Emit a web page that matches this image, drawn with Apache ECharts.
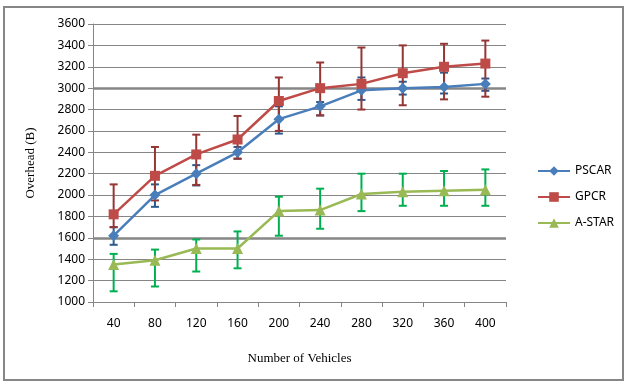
<!DOCTYPE html>
<html>
<head>
<meta charset="UTF-8">
<title>Overhead vs vehicles</title>
<script src="https://cdn.jsdelivr.net/npm/echarts@6/dist/echarts.min.js"></script>
<style>
  html, body { margin: 0; padding: 0; background: #fff; }
  #chart { width: 629px; height: 386px; }
</style>
</head>
<body>
<div id="chart"></div>
<script>
// categories and values
var vehicles = ['40', '80', '120', '160', '200', '240', '280', '320', '360', '400'];
var yTicks = [1000, 3600, 200];

var pscar     = [1620, 2000, 2200, 2400, 2710, 2830, 2980, 3000, 3010, 3040];
var pscarLow  = [1535, 1890, 2090, 2340, 2575, 2745, 2890, 2940, 2950, 2975];
var pscarHigh = [1700, 2100, 2280, 2450, 2830, 2870, 3100, 3060, 3145, 3090];

var gpcr      = [1820, 2180, 2380, 2520, 2880, 3000, 3040, 3140, 3200, 3230];
var gpcrLow   = [1700, 1950, 2095, 2340, 2600, 2745, 2800, 2840, 2895, 2920];
var gpcrHigh  = [2100, 2450, 2565, 2740, 3100, 3240, 3380, 3400, 3415, 3445];

var astar     = [1350, 1390, 1500, 1500, 1850, 1860, 2010, 2030, 2040, 2050];
var astarLow  = [1100, 1145, 1285, 1315, 1620, 1685, 1850, 1900, 1900, 1900];
var astarHigh = [1450, 1490, 1585, 1660, 1985, 2060, 2200, 2200, 2225, 2240];

var thickLines = [3000, 1600];

function bars(low, high) {
  var out = [];
  for (var i = 0; i < low.length; i++) out.push([i, low[i], high[i]]);
  return out;
}

// error bars: vertical whisker with small caps
function errorSeries(name, low, high, color) {
  return {
    type: 'custom',
    name: name + ' error',
    z: 1,
    silent: true,
    encode: { x: 0, y: [1, 2] },
    data: bars(low, high),
    renderItem: function (params, api) {
      var top = api.coord([api.value(0), api.value(2)]);
      var bot = api.coord([api.value(0), api.value(1)]);
      var w = 4;
      var st = { stroke: color, lineWidth: 2 };
      return {
        type: 'group',
        children: [
          { type: 'line', shape: { x1: top[0], y1: top[1], x2: bot[0], y2: bot[1] }, style: st },
          { type: 'line', shape: { x1: top[0] - w, y1: top[1], x2: top[0] + w, y2: top[1] }, style: st },
          { type: 'line', shape: { x1: bot[0] - w, y1: bot[1], x2: bot[0] + w, y2: bot[1] }, style: st }
        ]
      };
    }
  };
}

function lineSeries(name, data, color, symbol, size) {
  return {
    type: 'line',
    name: name,
    z: 3,
    data: data,
    symbol: symbol,
    symbolSize: size,
    lineStyle: { color: color, width: 2.5 },
    itemStyle: { color: color }
  };
}

var chart = echarts.init(document.getElementById('chart'));

var option = {
  animation: false,
  textStyle: { fontFamily: 'Noto Sans', color: '#000' },
  graphic: [{
    type: 'rect',
    shape: { x: 4, y: 7, width: 619, height: 373 },
    style: { fill: 'none', stroke: '#868686', lineWidth: 2 },
    silent: true
  }],
  grid: { left: 93, top: 24, right: 123, bottom: 84 },
  legend: {
    orient: 'vertical',
    left: 532,
    top: 160,
    itemWidth: 32,
    itemHeight: 12,
    itemGap: 14,
    textStyle: { fontSize: 12, color: '#000', fontFamily: 'Noto Sans' },
    data: ['PSCAR', 'GPCR', 'A-STAR']
  },
  xAxis: {
    type: 'category',
    data: vehicles,
    boundaryGap: true,
    name: 'Number of Vehicles',
    nameLocation: 'middle',
    nameGap: 50,
    nameTextStyle: { fontFamily: 'Liberation Serif', fontSize: 13, color: '#000' },
    axisLine: { lineStyle: { color: '#868686', width: 1 } },
    axisTick: { show: true, length: 5, lineStyle: { color: '#868686' } },
    axisLabel: { margin: 16, fontSize: 12, color: '#000' }
  },
  yAxis: {
    type: 'value',
    min: yTicks[0],
    max: yTicks[1],
    interval: yTicks[2],
    name: 'Overhead (B)',
    nameLocation: 'middle',
    nameGap: 56,
    nameTextStyle: { fontFamily: 'Liberation Serif', fontSize: 13, color: '#000' },
    axisLine: { show: true, lineStyle: { color: '#868686', width: 1 } },
    axisTick: { show: true, length: 5, lineStyle: { color: '#868686' } },
    axisLabel: { margin: 8, fontSize: 12, color: '#000', formatter: function (v) { return String(v); } },
    splitLine: { lineStyle: { color: '#868686', width: 1 } }
  },
  series: [
    {
      type: 'line',
      name: 'grid-thick',
      data: [],
      z: 0,
      silent: true,
      markLine: {
        z: 0,
        silent: true,
        symbol: 'none',
        animation: false,
        label: { show: false },
        lineStyle: { color: '#868686', width: 2.5, type: 'solid' },
        data: thickLines.map(function (v) { return { yAxis: v }; })
      }
    },
    errorSeries('PSCAR', pscarLow, pscarHigh, '#2c5a8e'),
    errorSeries('GPCR', gpcrLow, gpcrHigh, '#943634'),
    errorSeries('A-STAR', astarLow, astarHigh, '#00b050'),
    lineSeries('PSCAR', pscar, '#4a7ebb', 'diamond', 11),
    lineSeries('GPCR', gpcr, '#be4b48', 'rect', 10),
    lineSeries('A-STAR', astar, '#98b954', 'triangle', 11)
  ]
};

chart.setOption(option);
</script>
</body>
</html>
